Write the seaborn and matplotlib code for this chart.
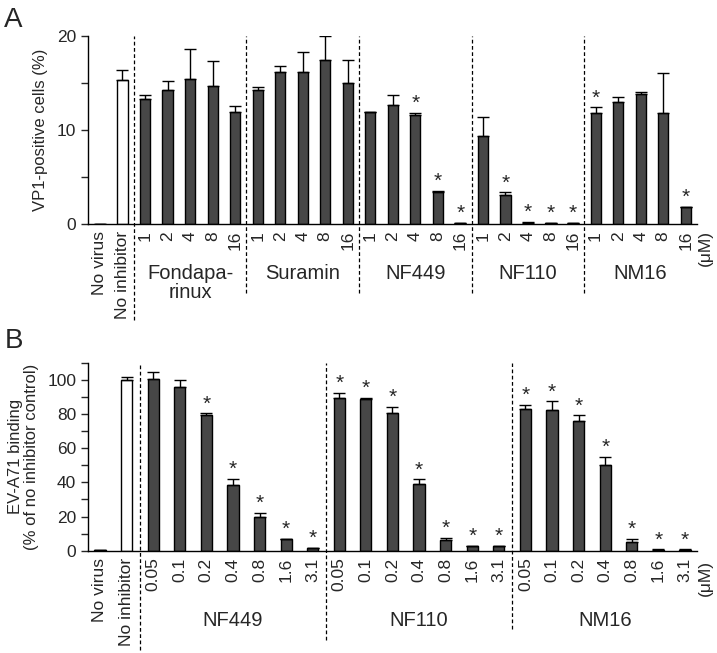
import numpy as np
import pandas as pd
import seaborn as sns
import matplotlib
matplotlib.use('Agg')
import matplotlib.pyplot as plt

sns.set_style('ticks')
plt.rcParams['font.family'] = ['Liberation Sans', 'DejaVu Sans']

# Panel A: VP1-positive cells (%)
a_groups = ['Fondapa-\nrinux', 'Suramin', 'NF449', 'NF110', 'NM16']
a_doses = ['1', '2', '4', '8', '16']
a_values = [0.05, 15.3,
            13.3, 14.3, 15.4, 14.7, 11.95,
            14.25, 16.2, 16.2, 17.4, 15.0,
            11.9, 12.7, 11.55, 3.45, 0.08,
            9.35, 3.1, 0.15, 0.08, 0.08,
            11.8, 13.0, 13.8, 11.8, 1.77]
a_errors = [0.0, 1.1,
            0.4, 0.9, 3.2, 2.6, 0.65,
            0.35, 0.6, 2.1, 2.6, 2.4,
            0.0, 1.0, 0.25, 0.08, 0.0,
            2.0, 0.25, 0.03, 0.0, 0.0,
            0.6, 0.5, 0.2, 4.3, 0.07]
a_stars = [0, 0,
           0, 0, 0, 0, 0,
           0, 0, 0, 0, 0,
           0, 0, 1, 1, 1,
           0, 1, 1, 1, 1,
           1, 0, 0, 0, 1]

# Panel B: EV-A71 binding (% of no inhibitor control)
b_groups = ['NF449', 'NF110', 'NM16']
b_doses = ['0.05', '0.1', '0.2', '0.4', '0.8', '1.6', '3.1']
b_values = [0.5, 100.0,
            100.8, 96.1, 79.5, 38.5, 19.9, 6.7, 1.6,
            89.6, 88.9, 80.9, 39.0, 6.1, 2.5, 2.5,
            83.0, 82.6, 76.0, 50.2, 4.9, 0.6, 0.6]
b_errors = [0.0, 1.6,
            4.1, 3.9, 1.0, 3.5, 2.0, 0.3, 0.2,
            3.0, 0.4, 3.3, 2.8, 1.5, 0.2, 0.2,
            2.2, 4.9, 3.3, 4.8, 1.9, 0.1, 0.1]
b_stars = [0, 0,
           0, 0, 1, 1, 1, 1, 1,
           1, 1, 1, 1, 1, 1, 1,
           1, 1, 1, 1, 1, 1, 1]

DARK = '#474747'


def draw_panel(ax, groups, doses, values, errors, stars, width, line_bottoms):
    labels = ['No virus', 'No inhibitor'] + doses * len(groups)
    keys = ['No virus', 'No inhibitor'] + [g + ' ' + d for g in groups for d in doses]
    colors = {k: DARK for k in keys}
    colors['No virus'] = 'white'
    colors['No inhibitor'] = 'white'
    df = pd.DataFrame({'key': keys, 'value': values})
    sns.barplot(x='key', y='value', hue='key', data=df, order=keys, hue_order=keys,
                palette=colors, legend=False, dodge=False, width=width,
                edgecolor='black', linewidth=1, ax=ax)
    n = len(keys)
    xs = np.arange(n)
    vals = np.array(values)
    errs = np.array(errors)
    ax.errorbar(xs, vals, yerr=[np.zeros(n), errs], fmt='none', ecolor='black',
                elinewidth=1, capsize=4, capthick=1, zorder=3)
    for x, v, e, s in zip(xs, vals, errs, stars):
        if s:
            ax.annotate('*', (x, v + e), xytext=(0, 0), textcoords='offset points',
                        ha='center', va='bottom', fontsize=15)
    ax.set_xticks(xs)
    ax.set_xticklabels(labels, rotation=90, fontsize=12.5)
    ax.tick_params(axis='x', length=0, pad=5)
    ax.tick_params(axis='y', which='both', direction='out', length=5, width=1,
                   labelsize=12.5)
    ax.set_xlabel('')
    # dashed separators between groups
    k = len(doses)
    for i, yb in enumerate(line_bottoms):
        ax.axvline(1.5 + i * k, ymin=yb, ymax=1, ls=(0, (3, 2)), color='black',
                   lw=0.9, clip_on=False)
    for spine in ['left', 'bottom']:
        ax.spines[spine].set_linewidth(1)
        ax.spines[spine].set_color('black')
    sns.despine(ax=ax)
    return keys


fig = plt.figure(figsize=(7.17, 6.53), dpi=100)

# Panel A
axA = fig.add_axes([0.1227, 0.657, 0.8494, 0.2879])
draw_panel(axA, a_groups, a_doses, a_values, a_errors, a_stars, 0.45,
           [-0.51, -0.367, -0.367, -0.367, -0.367])
axA.set_xlim(-0.53, 26.5)
axA.set_ylim(0, 20)
axA.set_yticks([0, 10, 20])
axA.set_yticks([5, 15], minor=True)
axA.set_ylabel('VP1-positive cells (%)', fontsize=12)
axA.yaxis.set_label_coords(-0.066, 0.5)
for i, g in enumerate(a_groups):
    axA.text(4 + 5 * i, -0.215, g, transform=axA.get_xaxis_transform(),
             ha='center', va='top', fontsize=14.5, linespacing=1.0)
axA.text(26.85, -0.13, '(μM)', transform=axA.get_xaxis_transform(),
         ha='center', va='center', rotation=90, fontsize=12.5)

# Panel B
axB = fig.add_axes([0.1227, 0.1567, 0.8494, 0.2874])
draw_panel(axB, b_groups, b_doses, b_values, b_errors, b_stars, 0.42,
           [-0.53, -0.476, -0.42])
axB.set_xlim(-0.45, 22.45)
axB.set_ylim(0, 110)
axB.set_yticks(np.arange(0, 101, 20))
axB.set_yticks(np.arange(10, 111, 20), minor=True)
axB.set_ylabel('EV-A71 binding\n(% of no inhibitor control)', fontsize=12,
               linespacing=1.1)
axB.yaxis.set_label_coords(-0.08, 0.5)
for i, g in enumerate(b_groups):
    axB.text(5 + 7 * i, -0.37, g, transform=axB.get_xaxis_transform(),
             ha='center', va='center', fontsize=14.5)
axB.text(22.75, -0.146, '(μM)', transform=axB.get_xaxis_transform(),
         ha='center', va='center', rotation=90, fontsize=12.5)

fig.text(0.006, 0.99, 'A', fontsize=20, va='top', ha='left')
fig.text(0.006, 0.497, 'B', fontsize=20, va='top', ha='left')

fig.savefig('out.png', dpi=100)
